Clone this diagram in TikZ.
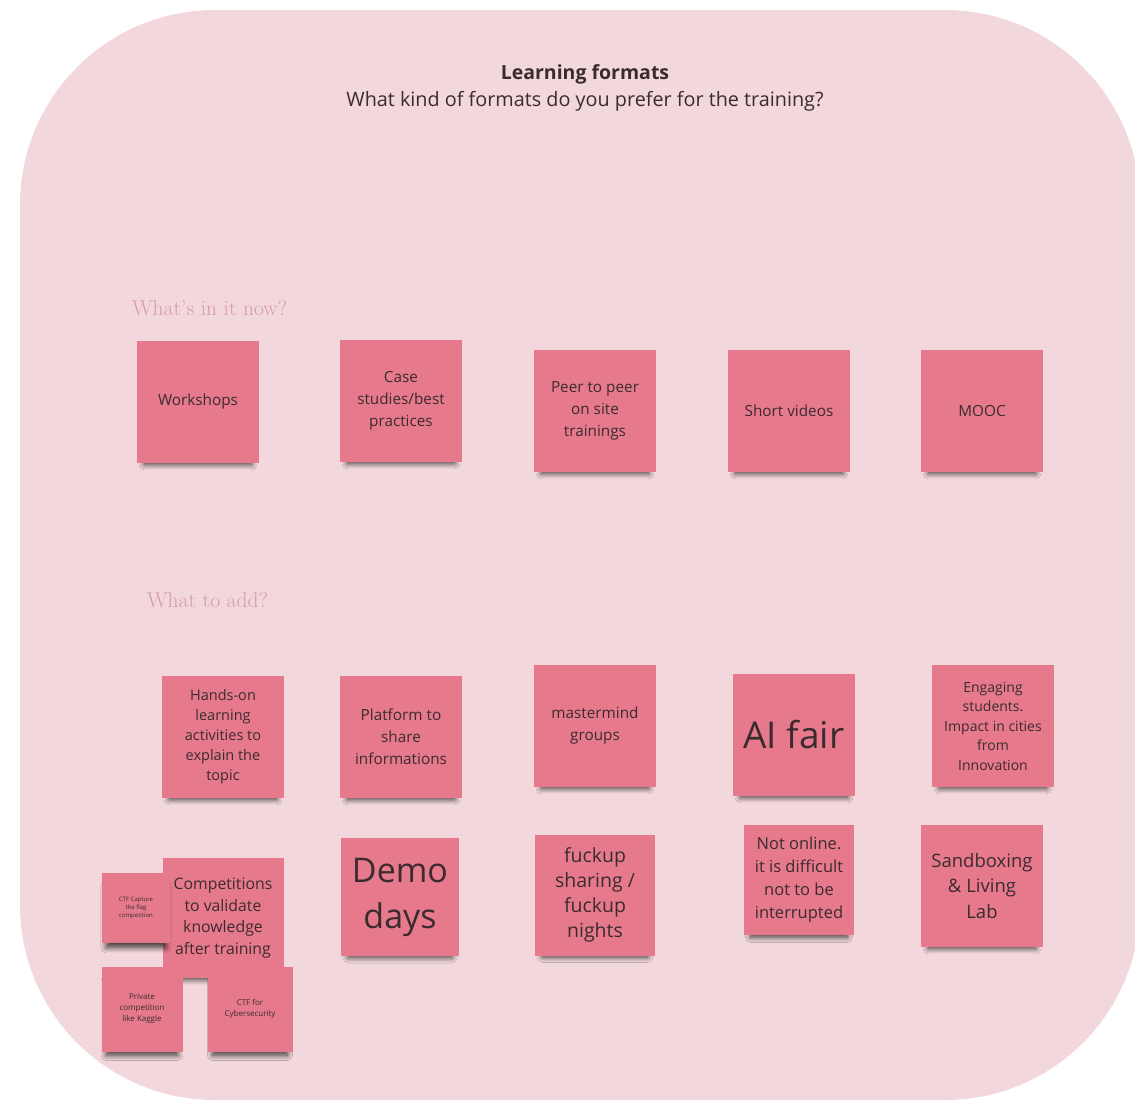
\documentclass[tikz,border=0pt]{standalone}
\usepackage{fontspec}
\setsansfont{Open Sans}
\usetikzlibrary{shadows.blur}
\definecolor{bg}{HTML}{F2D8DC}
\definecolor{notecol}{HTML}{E67A8C}
\definecolor{ink}{HTML}{3B2B2F}
\definecolor{lbl}{HTML}{D79AB0}
\tikzset{
  sticky/.style={fill=notecol, minimum width=122pt, minimum height=122pt, inner sep=2pt,
    align=center, text=ink, font=\sffamily\fontsize{15.3}{22}\selectfont,
    blur shadow={shadow xshift=0pt, shadow yshift=-10pt, shadow blur radius=6pt, shadow opacity=75, shadow scale=0.88, shadow blur steps=10}},
  fs/.style 2 args={font=\sffamily\fontsize{#1}{#2}\selectfont},
  section/.style={anchor=west, inner sep=0pt, text=lbl, font=\fontsize{21.5}{24}\selectfont}
}
\begin{document}
\begin{tikzpicture}[x=1pt,y=-1pt]
\useasboundingbox (0,0) rectangle (1135,1104);
\fill[bg, rounded corners=195pt] (20,10) rectangle (1140,1100);

\node[text=ink, font=\sffamily\bfseries\fontsize{19.5}{22}\selectfont] (title) at (585,74) {Learning formats};
\node[text=ink, font=\sffamily\fontsize{19.8}{22}\selectfont] (subtitle) at (585,101) {What kind of formats do you prefer for the training?};

\node[section] (now) at (132,308) {What's in it now?};
\node[section] (add) at (147,600) {What to add?};

% row 1
\node[sticky] (w1) at (198,402) {Workshops};
\node[sticky] (w2) at (401,401) {Case\\studies/best\\practices};
\node[sticky] (w3) at (595,411) {Peer to peer\\on site\\trainings};
\node[sticky] (w4) at (789,411) {Short videos};
\node[sticky] (w5) at (982,411) {MOOC};

% row 2
\node[sticky, fs={14.5}{20}] (a1) at (223,737) {Hands-on\\learning\\activities to\\explain the\\topic};
\node[sticky] (a2) at (401,737) {Platform to\\share\\informations};
\node[sticky] (a3) at (595,726) {mastermind\\groups};
\node[sticky, fs={37}{40}] (a4) at (794,735) {AI fair};
\node[sticky, fs={14}{19.5}] (a5) at (993,726) {Engaging\\students.\\Impact in cities\\from\\Innovation};

% row 3
\node[sticky, minimum width=121pt, minimum height=120pt, fs={15.8}{21.7}] (b1) at (223,918) {Competitions\\to validate\\knowledge\\after training};
\node[sticky, minimum width=118pt, minimum height=118pt, fs={34}{46}] (b2) at (400,897) {Demo\\days};
\node[sticky, minimum width=120pt, minimum height=121pt, fs={19.5}{25}] (b3) at (595,895) {fuckup\\sharing /\\fuckup\\nights};
\node[sticky, minimum width=110pt, minimum height=110pt, fs={16.5}{23}] (b4) at (799,880) {Not online.\\it is difficult\\not to be\\interrupted};
\node[sticky, fs={18.5}{25.5}] (b5) at (982,886) {Sandboxing\\\& Living\\Lab};

% small notes
\node[sticky, minimum width=68pt, minimum height=70pt, fs={6}{8}] (s1) at (136,908) {CTF Capture\\the flag\\competition};
\node[sticky, minimum width=81pt, minimum height=85pt, fs={8}{11}] (s2) at (142,1009) {Private\\competition\\like Kaggle};
\node[sticky, minimum width=85pt, minimum height=85pt, fs={8}{11}] (s3) at (250,1009) {CTF for\\Cybersecurity};
\end{tikzpicture}
\end{document}
